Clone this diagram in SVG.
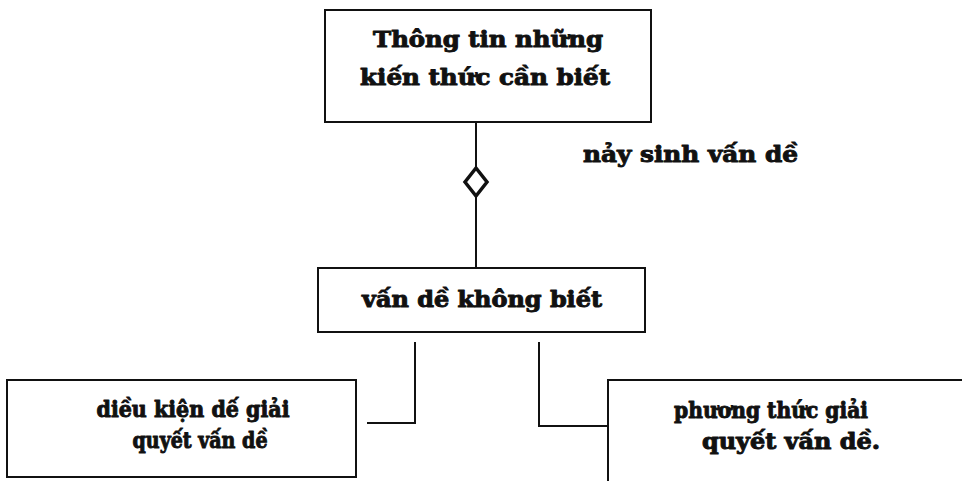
<svg xmlns="http://www.w3.org/2000/svg" width="962" height="481" viewBox="0 0 962 481">
  <style>
    .box { fill: #ffffff; stroke: #111111; stroke-width: 2; }
    .line { fill: none; stroke: #111111; stroke-width: 2; }
    .diamond { fill: #ffffff; stroke: #111111; stroke-width: 3.5; stroke-linejoin: miter; }
    text { font-family: "DejaVu Serif", "Liberation Serif", serif; font-weight: bold; font-size: 23px; fill: #111111; stroke: #111111; stroke-width: 1; stroke-linejoin: round; }
  </style>
  <rect width="962" height="481" fill="#ffffff"/>

  <!-- connectors -->
  <g id="connectors">
    <line class="line" x1="476" y1="122" x2="476" y2="167"/>
    <line class="line" x1="476" y1="197" x2="476" y2="268"/>
    <polygon class="diamond" points="476,168 487,182 476,196 465,182"/>
    <polyline class="line" points="415,342 415,423 367,423"/>
    <polyline class="line" points="539,342 539,426 608,426"/>
  </g>

  <!-- upper box -->
  <g id="node-knowledge">
    <rect class="box" x="325" y="10" width="326" height="112"/>
    <text x="488" y="47" text-anchor="middle" textLength="230" lengthAdjust="spacingAndGlyphs">Thông tin những</text>
    <text x="485" y="85" text-anchor="middle" textLength="250" lengthAdjust="spacingAndGlyphs">kiến thức cần biết</text>
  </g>

  <!-- edge label -->
  <g id="label-arise">
    <text x="583" y="162" textLength="215" lengthAdjust="spacingAndGlyphs">nảy sinh vấn dề</text>
  </g>

  <!-- middle box -->
  <g id="node-unknown">
    <rect class="box" x="318" y="268" width="327" height="64"/>
    <text x="482" y="307" text-anchor="middle" textLength="240" lengthAdjust="spacingAndGlyphs">vấn dề không biết</text>
  </g>

  <!-- lower left box -->
  <g id="node-conditions">
    <rect class="box" x="7" y="380" width="349" height="97"/>
    <text x="193" y="417" text-anchor="middle" textLength="193" lengthAdjust="spacingAndGlyphs">diều kiện dế giải</text>
    <text x="200" y="448" text-anchor="middle" textLength="135" lengthAdjust="spacingAndGlyphs">quyết vấn dề</text>
  </g>

  <!-- lower right box, runs off the edge -->
  <g id="node-methods">
    <path class="line" d="M608,481 L608,380 L962,380"/>
    <text x="771" y="418" text-anchor="middle" textLength="194" lengthAdjust="spacingAndGlyphs">phương thức giải</text>
    <text x="791" y="449" text-anchor="middle" textLength="178" lengthAdjust="spacingAndGlyphs">quyết vấn dề.</text>
  </g>
</svg>
